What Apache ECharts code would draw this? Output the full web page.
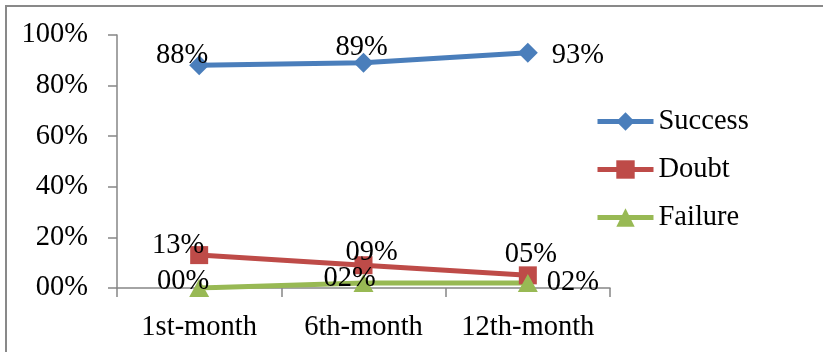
<!DOCTYPE html>
<html>
<head>
<meta charset="utf-8">
<script src="https://cdn.jsdelivr.net/npm/echarts@6/dist/echarts.min.js"></script>
<style>
  html, body { margin: 0; padding: 0; background: #fff; }
  #chart { width: 823px; height: 352px; }
</style>
</head>
<body>
<div id="chart"></div>
<script>
// Outcome shares per follow-up checkpoint (percent)
const categories = ['1st-month', '6th-month', '12th-month'];
const successValues = [88, 89, 93];
const doubtValues = [13, 9, 5];
const failureValues = [0, 2, 2];
const yTicks = { min: 0, max: 100, step: 20 };

// Label placement relative to each point, [dx, dy] in pixels
const successLabelOffsets = [[-17, -10], [-2, -15], [50, 3]];
const doubtLabelOffsets = [[-21, -10], [8, -13], [3, -21]];
const failureLabelOffsets = [[-16, -6], [-14, -4], [45, 0]];

const FONT = "'Liberation Serif', 'Times New Roman', serif";
const FONT_SIZE = 28.5;
const AXIS_GRAY = '#868686';

const pad2 = v => (v < 10 ? '0' + v : '' + v) + '%';

function withLabels(values, offsets) {
  return values.map((v, i) => ({
    value: v,
    label: { offset: offsets[i] }
  }));
}

function lineSeries(name, values, offsets, color, symbol, size) {
  return {
    name: name,
    type: 'line',
    data: withLabels(values, offsets),
    symbol: symbol,
    symbolSize: size,
    showAllSymbol: true,
    lineStyle: { color: color, width: 5 },
    itemStyle: { color: color },
    label: {
      show: true,
      position: 'inside',
      formatter: p => pad2(p.value),
      color: '#000',
      fontFamily: FONT,
      fontSize: FONT_SIZE
    },
    emphasis: { disabled: true },
    animation: false
  };
}

const chart = echarts.init(document.getElementById('chart'), null, { renderer: 'canvas' });

chart.setOption({
  backgroundColor: '#fff',
  animation: false,
  graphic: [{
    type: 'rect',
    shape: { x: 6, y: 6, width: 840, height: 370 },
    style: { fill: null, stroke: '#898989', lineWidth: 2 },
    silent: true,
    z: -10
  }],
  grid: { left: 117, right: 213, top: 35, bottom: 64 },
  legend: {
    orient: 'vertical',
    left: 590,
    top: 102,
    itemWidth: 56,
    itemHeight: 23,
    itemGap: 19,
    lineStyle: { width: 5 },
    textStyle: { color: '#000', fontFamily: FONT, fontSize: FONT_SIZE },
    data: ['Success', 'Doubt', 'Failure']
  },
  xAxis: {
    type: 'category',
    data: categories,
    boundaryGap: true,
    axisLine: { lineStyle: { color: AXIS_GRAY, width: 1.5 } },
    axisTick: { show: true, length: 9, alignWithLabel: false, lineStyle: { color: AXIS_GRAY, width: 1.5 } },
    axisLabel: {
      color: '#000', fontFamily: FONT, fontSize: FONT_SIZE, margin: 25,
      interval: 0, hideOverlap: false
    }
  },
  yAxis: {
    type: 'value',
    min: yTicks.min,
    max: yTicks.max,
    interval: yTicks.step,
    axisLine: { show: true, lineStyle: { color: AXIS_GRAY, width: 1.5 } },
    axisTick: { show: true, length: 9, lineStyle: { color: AXIS_GRAY, width: 1.5 } },
    splitLine: { show: false },
    axisLabel: {
      color: '#000', fontFamily: FONT, fontSize: FONT_SIZE, margin: 29,
      formatter: v => pad2(v)
    }
  },
  series: [
    lineSeries('Success', successValues, successLabelOffsets, '#4A7EBB', 'diamond', 20),
    lineSeries('Doubt', doubtValues, doubtLabelOffsets, '#BE4B48', 'rect', 18),
    lineSeries('Failure', failureValues, failureLabelOffsets, '#98B954', 'triangle', [20, 18])
  ]
});
</script>
</body>
</html>
